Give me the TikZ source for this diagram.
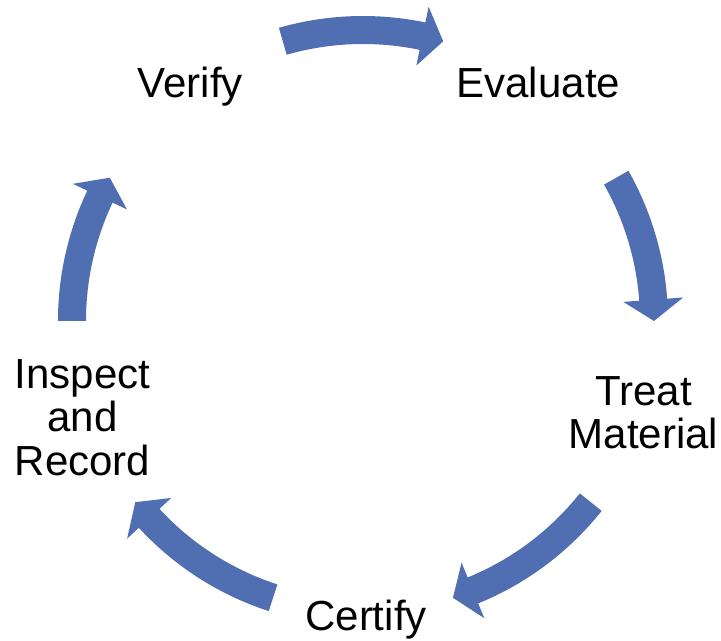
\documentclass[tikz,border=0pt]{standalone}
\usepackage{fontspec}
\setmainfont{Liberation Sans}
\usepackage{tikz}
\usetikzlibrary{positioning}
\usepackage{xcolor}
\definecolor{cycblue}{RGB}{80,110,178}
\tikzstyle{cycarrow} = [fill=cycblue, draw=none]
\tikzstyle{stagetext} = [anchor=base, align=center, inner sep=0pt, font=\fontsize{29.9pt}{30.6pt}\selectfont]

\begin{document}
\begin{tikzpicture}
\useasboundingbox (-9.075,-7.975) rectangle (8.95,8.025);

% Curved arrows (start angle / tip angle)
\foreach \s/\e in {106/74, 29.5/0, -38.5/-72, -108/-141.5, 180/150.5} {
    \pgfmathsetmacro{\h}{\e+4.2}
    \fill[cycarrow] (\s:7.625) arc[start angle=\s, end angle=\h, radius=7.625]
        -- (\h:8.025) -- (\e:7.275) -- (\h:6.525) -- (\h:6.925)
        arc[start angle=\h, end angle=\s, radius=6.925] -- cycle;
}

% Stages (base = last line)
\node[stagetext] (verify) at (-4.32,5.583) {Verify};
\node[stagetext] (evaluate) at (4.383,5.583) {Evaluate};
\node[stagetext] (treat) at (7.0125,-3.1825) {Treat\\Material};
\node[stagetext] (certify) at (0.075,-7.725) {Certify};
\node[stagetext] (inspect) at (-7.0125,-3.85) {Inspect\\and\\Record};
\end{tikzpicture}
\end{document}
